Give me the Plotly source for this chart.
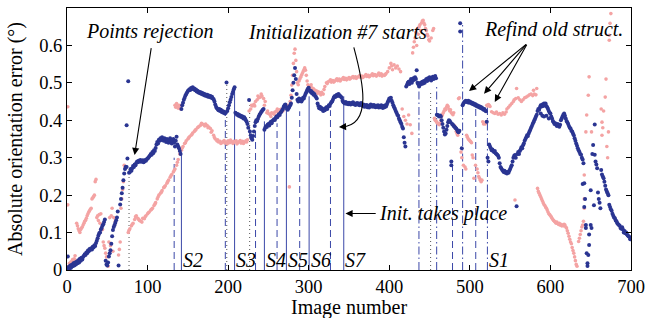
import plotly.graph_objects as go

# ---------------- data ----------------
blue_x = [
    0, 1, 2, 3, 4, 5, 6, 7, 8, 9, 10, 11, 12, 13, 14, 15, 16, 17, 18, 19, 20,
    21, 22, 23, 24, 25, 26, 27, 28, 29, 30, 31, 32, 33, 34, 35, 36, 37, 38, 39, 40, 41, 42, 43, 44, 45, 46, 47,
    48, 49, 50, 51, 52, 53, 54, 55, 56, 57, 58, 59, 60, 61, 62, 63, 64,
    66, 67, 68, 69, 70, 71, 72, 73, 74, 74, 75, 76,
    77, 78, 79, 80, 81, 82, 83, 84, 85, 86, 87, 88, 89, 90, 91, 92, 93, 94, 95, 96, 97, 98, 99, 100, 101, 102, 103, 104, 105, 106, 107, 108, 109, 110,
    111, 112, 113, 114, 115, 116, 117, 118, 119, 120, 121, 122, 123, 124, 125, 126, 127, 128, 129, 130, 131, 132, 133, 134, 135, 136, 137, 138, 139, 140, 141,
    142, 143, 144, 145, 146, 147, 148, 149, 150, 151, 152, 153, 154, 155, 156, 157, 158, 159, 160, 161, 162, 163, 164, 165, 166, 167, 168, 169, 170, 171, 172, 173, 174, 175, 176, 177, 178, 179, 180, 181, 182, 183, 184, 185,
    186, 187, 188, 189, 190, 191, 192, 193, 194, 195, 196, 197, 198, 199, 200, 201, 202, 203, 204, 205, 206, 207, 208,
    209, 210, 211, 212, 213, 214, 215, 216, 217, 218, 219, 220, 221, 222, 223, 224, 225, 226, 227, 228, 229, 230, 231, 232, 233, 234, 235, 236, 237, 238, 239, 240, 241, 242, 243, 244,
    245, 246, 247, 248, 249, 250, 251, 252, 253, 254, 255, 256, 257, 258, 259, 260, 261, 262, 263, 264, 265, 266, 267, 268, 269, 270, 271, 272, 273, 274, 275,
    276, 277, 278, 279, 280, 281, 282, 283, 284, 285, 286, 287, 288, 289, 290, 291, 292, 293, 294, 295, 296, 297, 298, 299, 300,
    301, 302, 303, 304, 305, 306, 307, 308, 309, 310, 311, 312, 313, 314, 315, 316, 317, 318, 319, 320, 321, 322, 323, 324, 325, 326, 327, 328, 329, 330, 331, 332, 333, 334, 335, 336, 337, 338, 339, 340, 341, 342, 343,
    344, 345, 346, 347, 348, 349, 350, 351, 352, 353, 354, 355, 356, 357, 358, 359, 360, 361, 362, 363, 364, 365, 366, 367, 368, 369, 370, 371, 372, 373, 374, 375, 376, 377, 378, 379, 380, 381, 382, 383, 384, 385, 386, 387, 388, 389, 390, 391, 392, 393, 394, 395, 396, 397, 398, 399, 400, 401, 402, 403, 404, 405,
    406, 407, 408, 409, 410, 411, 412, 413, 414, 415, 416, 417, 418, 419, 420,
    421, 422, 423, 424, 425, 426, 427, 428, 429, 430, 431, 432, 433, 434, 435, 436, 437, 438, 439, 440, 441, 442, 443, 444, 445, 446, 447, 448, 449, 450, 451, 452, 453, 454, 455, 456, 457, 458,
    459, 460, 461, 462, 463, 464, 465, 466, 467, 468, 469, 470, 471, 472, 473, 474, 475, 476, 477, 477, 478, 479, 480, 481, 482, 483, 484, 485, 486, 487, 488, 488, 490,
    491, 492, 493, 494, 495, 496, 497, 498, 499, 500, 501, 502, 503, 504, 505, 506, 507, 508, 509, 510, 511, 512, 513, 514, 515, 516, 517, 518, 519, 520, 521,
    522, 523, 524, 525, 526, 527, 528, 529, 530, 531, 532, 533, 534, 535, 536, 537, 538, 539, 540, 541, 542, 543, 544, 545, 546, 547, 548, 549, 550, 551, 552, 553, 554, 555, 556, 557, 558, 559,
    560, 561, 562, 563, 564, 565, 566, 567, 568, 569, 570, 571, 572, 573, 574, 575, 576, 577, 578, 579, 580, 581, 582, 583, 584, 585, 586, 587, 588, 589, 590, 591, 592, 593, 594, 595, 596, 597, 598, 599, 600,
    588, 590, 592, 595, 598,
    601, 602, 603, 604, 605, 606, 607, 608, 609, 610, 611, 612, 613, 614, 615, 616, 617, 618, 619, 620, 621, 622, 623, 624, 625, 626, 627, 628, 629, 630, 631, 632, 633, 634, 635, 636, 637, 638, 639, 640,
    640, 641, 642, 642, 643, 644, 644, 645, 646, 646, 647, 648, 648, 650, 650, 651, 652, 653, 654, 655, 655, 656, 657, 658, 659, 660, 661, 662, 663, 664, 665, 666, 667, 668, 669, 670, 671, 672, 673, 674, 675, 676, 677, 678, 679, 680, 681, 682, 683, 684, 685, 686, 687, 688, 689, 690, 691, 692, 693, 694, 695, 696, 697, 698, 699, 700,
]
blue_y = [
    .004, .036, .008, .002, .012, .006, .014, .010, .018, .012, .020, .015, .022, .018, .026, .020, .030, .025, .033, .028, .035,
    .038, .042, .040, .047, .045, .052, .050, .056, .054, .058, .055, .062, .060, .066, .064, .072, .078, .085, .092, .098, .100, .108, .112, .118, .122, .128, .135,
    .025, .015, .012, .020, .036, .045, .053, .070, .090, .107, .115, .120, .126, .133, .140, .156, .012,
    .175, .190, .205, .220, .240, .258, .270, .276, .275, .387, .298, .504,
    .260, .262, .270, .265, .272, .278, .275, .282, .280, .286, .290, .288, .292, .290, .294, .289, .291, .293, .288, .290, .294, .292, .296, .298, .300, .303, .306, .310, .308, .315, .312, .320, .318, .326,
    .335, .342, .338, .348, .345, .352, .347, .355, .350, .345, .352, .348, .342, .350, .346, .340, .348, .352, .343, .338, .345, .350, .340, .330, .345, .356, .335, .330, .325, .318, .310,
    .430, .440, .447, .455, .460, .466, .470, .474, .478, .480, .483, .481, .486, .484, .488, .483, .485, .480, .482, .477, .479, .474, .476, .472, .475, .470, .473, .468, .471, .466, .469, .465, .468, .463, .466, .462, .465, .460, .463, .458, .456, .450, .442, .436,
    .432, .430, .427, .430, .425, .428, .422, .425, .420, .423, .418, .420, .501, .425, .432, .440, .448, .455, .462, .470, .476, .483, .488,
    .420, .418, .415, .417, .412, .414, .410, .412, .408, .410, .405, .408, .404, .400, .396, .390, .380, .454, .370, .360, .352, .348, .358, .370, .385, .395, .400, .398, .404, .410, .415, .418, .422, .425, .428, .430,
    .375, .380, .384, .382, .388, .390, .386, .393, .396, .392, .398, .400, .403, .401, .406, .410, .408, .413, .416, .414, .420, .423, .427, .430, .436, .440, .442, .436, .430, .428, .432,
    .436, .440, .445, .460, .480, .500, .520, .540, .510, .470, .455, .450, .458, .452, .456, .450, .455, .460, .458, .465, .470, .475, .480, .484, .487,
    .480, .476, .478, .472, .474, .468, .470, .465, .462, .458, .445, .438, .432, .436, .430, .433, .428, .425, .430, .427, .432, .435, .430, .436, .440, .438, .444, .448, .450, .455, .460, .464, .462, .466, .468, .465, .470, .467, .465, .463, .460, .452, .448,
    .447, .445, .449, .444, .446, .443, .447, .445, .442, .446, .444, .448, .443, .445, .441, .444, .446, .442, .445, .440, .443, .446, .441, .438, .442, .436, .440, .437, .441, .435, .439, .434, .438, .442, .437, .440, .436, .441, .438, .435, .439, .436, .440, .434, .438, .435, .440, .437, .433, .438, .435, .440, .437, .442, .448, .453, .458, .455, .460, .452, .447, .440,
    .435, .430, .425, .420, .415, .412, .405, .400, .395, .390, .383, .378, .355, .340, .330,
    .490, .495, .500, .503, .497, .505, .510, .500, .506, .512, .508, .515, .510, .534, .500, .496, .490, .495, .500, .497, .503, .498, .505, .500, .507, .510, .505, .512, .508, .515, .510, .506, .512, .516, .510, .514, .518, .512,
    .415, .414, .412, .410, .413, .410, .400, .390, .380, .370, .362, .365, .375, .385, .395, .400, .398, .395, .290, .280, .390, .388, .385, .383, .380, .378, .375, .370, .368, .372, .659, .637, .325,
    .440, .445, .448, .450, .452, .450, .448, .452, .447, .450, .448, .445, .447, .443, .445, .441, .443, .438, .440, .436, .438, .434, .436, .432, .434, .430, .428, .430, .426, .424, .396,
    .300, .290, .335, .330, .325, .320, .322, .318, .315, .318, .312, .310, .308, .305, .300, .285, .275, .272, .268, .265, .262, .265, .260, .262, .258, .262, .260, .265, .270, .275, .280, .290, .300, .305, .307, .300, .170, .310,
    .315, .310, .318, .322, .328, .325, .333, .338, .345, .350, .355, .360, .358, .365, .370, .375, .380, .385, .390, .395, .400, .405, .410, .415, .425, .430, .428, .435, .440, .437, .442, .438, .445, .440, .445, .438, .435, .430, .425, .420, .418,
    .418, .412, .410, .412, .405,
    .410, .405, .398, .395, .390, .392, .388, .385, .390, .386, .383, .388, .400, .405, .410, .415, .418, .412, .405, .398, .395, .390, .385, .380, .378, .372, .370, .365, .360, .352, .345, .338, .332, .325, .320, .315, .310, .308, .300, .295,
    .230, .285, .232, .168, .190, .120, .112, .045, .018, .011, .040, .095, .067, .213, .120, .112, .310, .334, .173, .389, .308, .290, .282, .272, .207, .190, .180, .165, .267, .255, .250, .245, .236, .225, .215, .210, .205, .200, .174, .168, .162, .158, .150, .145, .140, .138, .132, .130, .125, .122, .120, .118, .112, .110, .114, .108, .100, .104, .098, .100, .095, .092, .090, .088, .082, .085,
]

pink_x = [
    0, 1, 1, 2, 3, 4, 5, 6, 7, 8, 9, 10, 11, 12, 13, 14, 15, 16, 17, 18, 19, 20, 21, 22, 23, 24, 25, 26, 27, 28, 29, 30, 31, 32, 33, 34, 35, 36,
    37, 38, 39, 40, 41, 42, 43, 44, 45, 46, 47, 48, 49, 50, 51, 52, 53, 54, 55, 56, 57, 58, 59, 60, 64, 65, 66, 67, 68, 69, 70, 71, 72,
    76, 78, 80, 82, 84, 86, 88, 90, 92, 94, 96, 98, 100, 102, 104, 106, 108, 110, 112, 114, 116, 118, 120, 122, 124, 126, 128, 130, 132, 134, 136, 138, 140,
    77, 81, 85, 89, 93, 97, 101, 105, 109, 113, 117, 121, 125, 129, 133, 137,
    134, 135, 136, 137, 138, 139, 140, 141, 142,
    142, 144, 146, 148, 150, 152, 154, 156, 158, 160, 162, 164, 166, 168, 170, 172, 174, 176, 178, 180, 182, 184,
    143, 147, 151, 155, 159, 163, 167, 171, 175, 179, 183,
    186, 188, 190, 192, 194, 196, 198, 200, 202, 204, 206, 208, 210, 212, 214, 216, 218, 220, 222, 224,
    187, 191, 195, 199, 203, 207, 211, 215, 219, 223,
    226, 228, 230, 232, 234, 236, 238, 240, 242, 244, 246, 248, 250, 252, 254, 256, 258, 260, 262, 264, 266, 268, 270, 272, 274, 276,
    229, 233, 237, 241, 245, 249, 253, 257, 261, 265, 269, 273,
    277, 278, 279, 280, 281, 282, 283, 284, 285, 286, 287, 288, 289, 290, 291, 292, 293, 294, 295, 296, 297, 298, 299, 300,
    302, 304, 306, 308, 310, 312, 314, 316, 318, 320, 322, 324, 326, 328, 330, 332, 334, 336, 338, 340, 342, 344, 346, 348, 350, 352, 354, 356, 358, 360, 362, 364, 366, 368, 370, 372, 374, 376, 378, 380, 382, 384, 386, 388, 390, 392, 394, 396, 398, 400, 402, 403, 404, 406, 408, 410, 412, 414,
    303, 307, 311, 315, 319, 323, 327, 331, 335, 339, 343, 347, 351, 355, 359, 363, 367, 371, 375, 379, 383, 387, 391, 395,
    416, 418, 420, 422, 424, 426, 428, 429, 430, 431, 432, 433, 434, 435, 436, 437, 438, 439, 440, 441, 442, 443, 444, 445, 446, 447, 448, 449, 450, 452, 454, 455,
    456, 457, 458, 459, 460, 461, 462, 463, 464, 465, 466, 467, 468, 469, 470, 471, 472, 473, 474, 475, 476, 477, 478, 479, 480, 481, 482, 483, 484, 485, 486, 487, 489, 490,
    492, 494, 495, 496, 497, 498, 499, 500, 501, 502, 503, 504, 505, 507, 509, 510, 511, 512, 513, 514, 515, 516, 517, 518, 519, 520, 521, 522, 523, 524, 525, 527, 529, 531, 533, 535, 537, 539, 541, 543, 545, 546, 548, 550, 552, 554, 555, 556, 557, 558,
    560, 562, 564, 566, 568, 570, 572, 574, 576, 578, 579, 580, 582, 583, 584, 585, 586, 587, 588, 589, 590, 591, 592, 593, 594, 595, 596, 597, 598, 599, 600,
    601, 602, 603, 604, 605, 606, 607, 608, 609, 610, 611, 612, 613, 614, 615, 616, 617, 618, 619, 620, 621, 622, 623, 624, 625, 626, 627, 628, 629, 630, 631, 632, 633, 635, 636, 637, 638, 639, 640, 641,
    642, 642, 642, 644, 645, 647, 648, 651, 663, 664, 664, 665, 666, 668, 669, 670, 671, 672, 673, 673, 674, 675,
]
pink_y = [
    .005, .436, .174, .010, .018, .012, .022, .015, .028, .020, .030, .038, .025, .125, .118, .110, .105, .100, .108, .112, .115, .120, .125, .130, .133, .138, .145, .150, .155, .158, .162, .165, .190, .193, .196, .200, .236, .242,
    .140, .145, .132, .148, .125, .150, .115, .108, .075, .065, .058, .045, .035, .020, .010, .075, .140, .065, .145, .165, .050, .140, .120, .130, .040, .055, .075, .165, .190, .215, .236, .280, .275,
    .100, .110, .118, .125, .135, .145, .138, .132, .130, .138, .137, .145, .150, .155, .160, .165, .172, .180, .190, .200, .205, .212, .220, .225, .232, .240, .248, .255, .262, .270, .280, .295, .310,
    .106, .122, .142, .135, .128, .142, .153, .162, .176, .195, .208, .222, .236, .252, .266, .288,
    .440, .435, .445, .438, .432, .440, .436, .430, .440,
    .320, .330, .338, .345, .350, .356, .360, .366, .370, .375, .380, .384, .387, .390, .388, .390, .386, .382, .378, .372, .360, .350,
    .326, .340, .353, .362, .373, .382, .392, .385, .380, .368, .354,
    .345, .342, .344, .340, .343, .339, .342, .345, .340, .343, .338, .342, .345, .340, .343, .339, .344, .341, .345, .348,
    .348, .338, .346, .337, .347, .344, .337, .346, .338, .342,
    .425, .430, .438, .443, .450, .455, .460, .462, .465, .458, .450, .420, .418, .415, .420, .418, .422, .425, .420, .428, .430, .425, .432, .435, .440, .222,
    .440, .438, .465, .470, .440, .425, .410, .416, .430, .424, .435, .430,
    .450, .467, .494, .520, .552, .579, .590, .560, .530, .500, .495, .505, .510, .515, .520, .525, .530, .535, .540, .534, .520, .505, .495, .490,
    .490, .487, .484, .480, .478, .476, .473, .475, .470, .490, .500, .503, .505, .502, .506, .504, .508, .506, .510, .508, .511, .509, .512, .510, .514, .512, .515, .513, .516, .514, .517, .515, .518, .516, .519, .517, .520, .518, .521, .519, .522, .518, .523, .520, .524, .521, .520, .525, .530, .540, .552, .545, .535, .548, .540, .545, .537, .530,
    .495, .478, .472, .468, .482, .498, .508, .502, .511, .505, .514, .508, .510, .517, .512, .519, .514, .522, .516, .524, .520, .526, .518, .522,
    .430, .410, .400, .390, .414, .388, .365, .580, .595, .610, .620, .635, .600, .645, .630, .650, .655, .640, .660, .665, .667, .660, .655, .645, .640, .630, .625, .615, .612, .620, .640, .645,
    .405, .400, .398, .395, .392, .390, .388, .392, .400, .410, .415, .420, .425, .430, .428, .435, .440, .437, .430, .425, .428, .420, .418, .415, .420, .385, .378, .370, .365, .360, .458, .460, .315, .300,
    .280, .275, .270, .360, .355, .350, .348, .345, .343, .340, .307, .300, .245, .280, .270, .260, .250, .245, .240, .236, .240, .396, .390, .392, .390, .395, .440, .438, .442, .440, .437, .423, .420, .418, .422, .416, .418, .414, .420, .416, .422, .430, .435, .440, .445, .450, .455, .187, .458, .485,
    .460, .455, .450, .455, .460, .462, .465, .468, .470, .466, .480, .470, .468, .485, .218, .210, .205, .200, .195, .190, .185, .180, .175, .172, .168, .165, .160, .155, .150, .148, .145,
    .142, .138, .135, .132, .130, .128, .125, .128, .124, .122, .125, .120, .122, .118, .120, .118, .122, .120, .115, .112, .105, .098, .090, .082, .075, .070, .060, .052, .045, .035, .025, .015, .010, .076, .085, .095, .105, .115, .120, .130,
    .165, .190, .254, .369, .414, .467, .516, .369, .430, .395, .360, .380, .425, .462, .510, .330, .300, .369, .614, .627, .659, .685,
]

# vertical event lines (frame, height reached, line kind)
vline_x = [77, 133, 142, 196.5, 198.3, 208, 226.7, 234, 245, 260.7, 272.3, 288.8, 300.5, 327, 343.5,
           436.8, 451.3, 458.8, 478.5, 491, 507.3, 521.8]
vline_top = [0.27, 0.30, 0.32, 0.418, 0.494, 0.485, 0.454, 0.388, 0.397, 0.392, 0.432, 0.424, 0.464, 0.427, 0.464,
             0.481, 0.481, 0.49, 0.28, 0.66, 0.435, 0.435]
vline_kind = ['dot', 'dash', 'solid', 'dash', 'dot', 'solid', 'dot', 'dash', 'solid', 'dash', 'solid', 'dash', 'solid', 'dash', 'solid',
              'dashdot', 'dot', 'dashdot', 'dash', 'dashdot', 'dash', 'dashdot']

seg_labels = ['S2', 'S3', 'S4', 'S5', 'S6', 'S7', 'S1']
seg_label_x = [143, 209, 246, 272.5, 301.5, 343.5, 522.5]

x_ticks = [0, 100, 200, 300, 400, 500, 600, 700]
y_ticks = [0, 0.1, 0.2, 0.3, 0.4, 0.5, 0.6]
y_tick_text = ['0', '0.1', '0.2', '0.3', '0.4', '0.5', '0.6']

assert len(blue_x) == len(blue_y), (len(blue_x), len(blue_y))
assert len(pink_x) == len(pink_y), (len(pink_x), len(pink_y))

# ---------------- style ----------------
FONT = "'Liberation Serif', 'Times New Roman', Times, 'DejaVu Serif', serif"
BLUE = "#2a3592"
PINK = "#f4a3a3"
LINEBLUE = "#3b48a8"

dash_map = {'solid': 'solid', 'dash': '7px,4px', 'dot': '1px,3px', 'dashdot': '8px,3px,1.5px,3px'}
color_map = {'solid': LINEBLUE, 'dash': LINEBLUE, 'dot': '#555555', 'dashdot': LINEBLUE}

fig = go.Figure()

for kind in ['dot', 'dash', 'dashdot', 'solid']:
    xs, ys = [], []
    for x, t, k in zip(vline_x, vline_top, vline_kind):
        if k == kind:
            xs += [x, x, None]
            ys += [0, t, None]
    fig.add_trace(go.Scatter(x=xs, y=ys, mode='lines', hoverinfo='skip', showlegend=False,
                             line=dict(color=color_map[kind], width=1, dash=dash_map[kind])))

fig.add_trace(go.Scatter(x=pink_x, y=pink_y, mode='markers', showlegend=False,
                         marker=dict(color=PINK, size=3.6, line=dict(width=0))))
fig.add_trace(go.Scatter(x=blue_x, y=blue_y, mode='markers', showlegend=False,
                         marker=dict(color=BLUE, size=4, line=dict(width=0))))

tickfont = dict(family=FONT, size=18.5, color='black')
fig.update_xaxes(range=[0, 700], tickvals=x_ticks, ticks='inside', ticklen=5, tickcolor='black',
                 showline=True, linecolor='black', linewidth=1, mirror='ticks', automargin=False,
                 showgrid=False, zeroline=False, tickfont=tickfont)
fig.update_yaxes(range=[0, 0.7], tickvals=y_ticks, ticktext=y_tick_text, ticks='inside', ticklen=5,
                 tickcolor='black', showline=True, linecolor='black', linewidth=1, mirror='ticks', automargin=False,
                 showgrid=False, zeroline=False, tickfont=tickfont,
                 title=dict(text='Absolute orientation error (°)', font=dict(family=FONT, size=20, color='black'),
                            standoff=11))

afont = dict(family=FONT, size=20, color='black')
anns = []
# x axis title
anns.append(dict(x=0.5, y=-0.097, xref='paper', yref='paper', text='Image number', showarrow=False,
                 xanchor='center', yanchor='top', font=afont, borderpad=0))
# segment labels
for name, lx in zip(seg_labels, seg_label_x):
    anns.append(dict(x=lx, y=0.027, xref='x', yref='y', text='<i>' + name + '</i>', showarrow=False,
                     xanchor='left', yanchor='middle', font=afont, borderpad=0))
# text annotations
anns.append(dict(x=102, y=0.637, xref='x', yref='y', text='<i>Points rejection</i>', showarrow=False, font=afont))
anns.append(dict(x=336, y=0.637, xref='x', yref='y', text='<i>Initialization #7 starts</i>', showarrow=False, font=afont))
anns.append(dict(x=603.5, y=0.643, xref='x', yref='y', text='<i>Refind old struct.</i>', showarrow=False, font=afont))
anns.append(dict(x=386.5, y=0.152, xref='x', yref='y', text='<i>Init. takes place</i>', showarrow=False,
                 xanchor='left', font=afont, borderpad=0))
# arrows (head x,y ; tail ax,ay)
arrow_list = [
    (83.9, 0.307, 104.8, 0.597),
    (499.0, 0.478, 571.6, 0.606),
    (517.6, 0.471, 571.6, 0.606),
    (530.9, 0.449, 571.6, 0.606),
    (345.6, 0.151, 385.0, 0.151),
    (337.5, 0.382, 346.0, 0.383),
]
for hx, hy, tx, ty in arrow_list:
    anns.append(dict(x=hx, y=hy, ax=tx, ay=ty, xref='x', yref='y', axref='x', ayref='y', text='',
                     showarrow=True, arrowhead=2, arrowsize=1.3, arrowwidth=1.1, arrowcolor='black'))

fig.add_shape(type='path', xref='x', yref='y',
              path='M 356,0.595 C 367,0.507 380,0.387 341,0.382',
              line=dict(color='black', width=1.1))

fig.update_layout(width=649, height=318, margin=dict(l=67, r=18, t=8, b=48),
                  plot_bgcolor='white', paper_bgcolor='white', annotations=anns,
                  font=dict(family=FONT, color='black'))

fig.write_html("out.html", config={'displayModeBar': False},
               post_script="document.body.style.margin='0';document.body.style.padding='0';")
